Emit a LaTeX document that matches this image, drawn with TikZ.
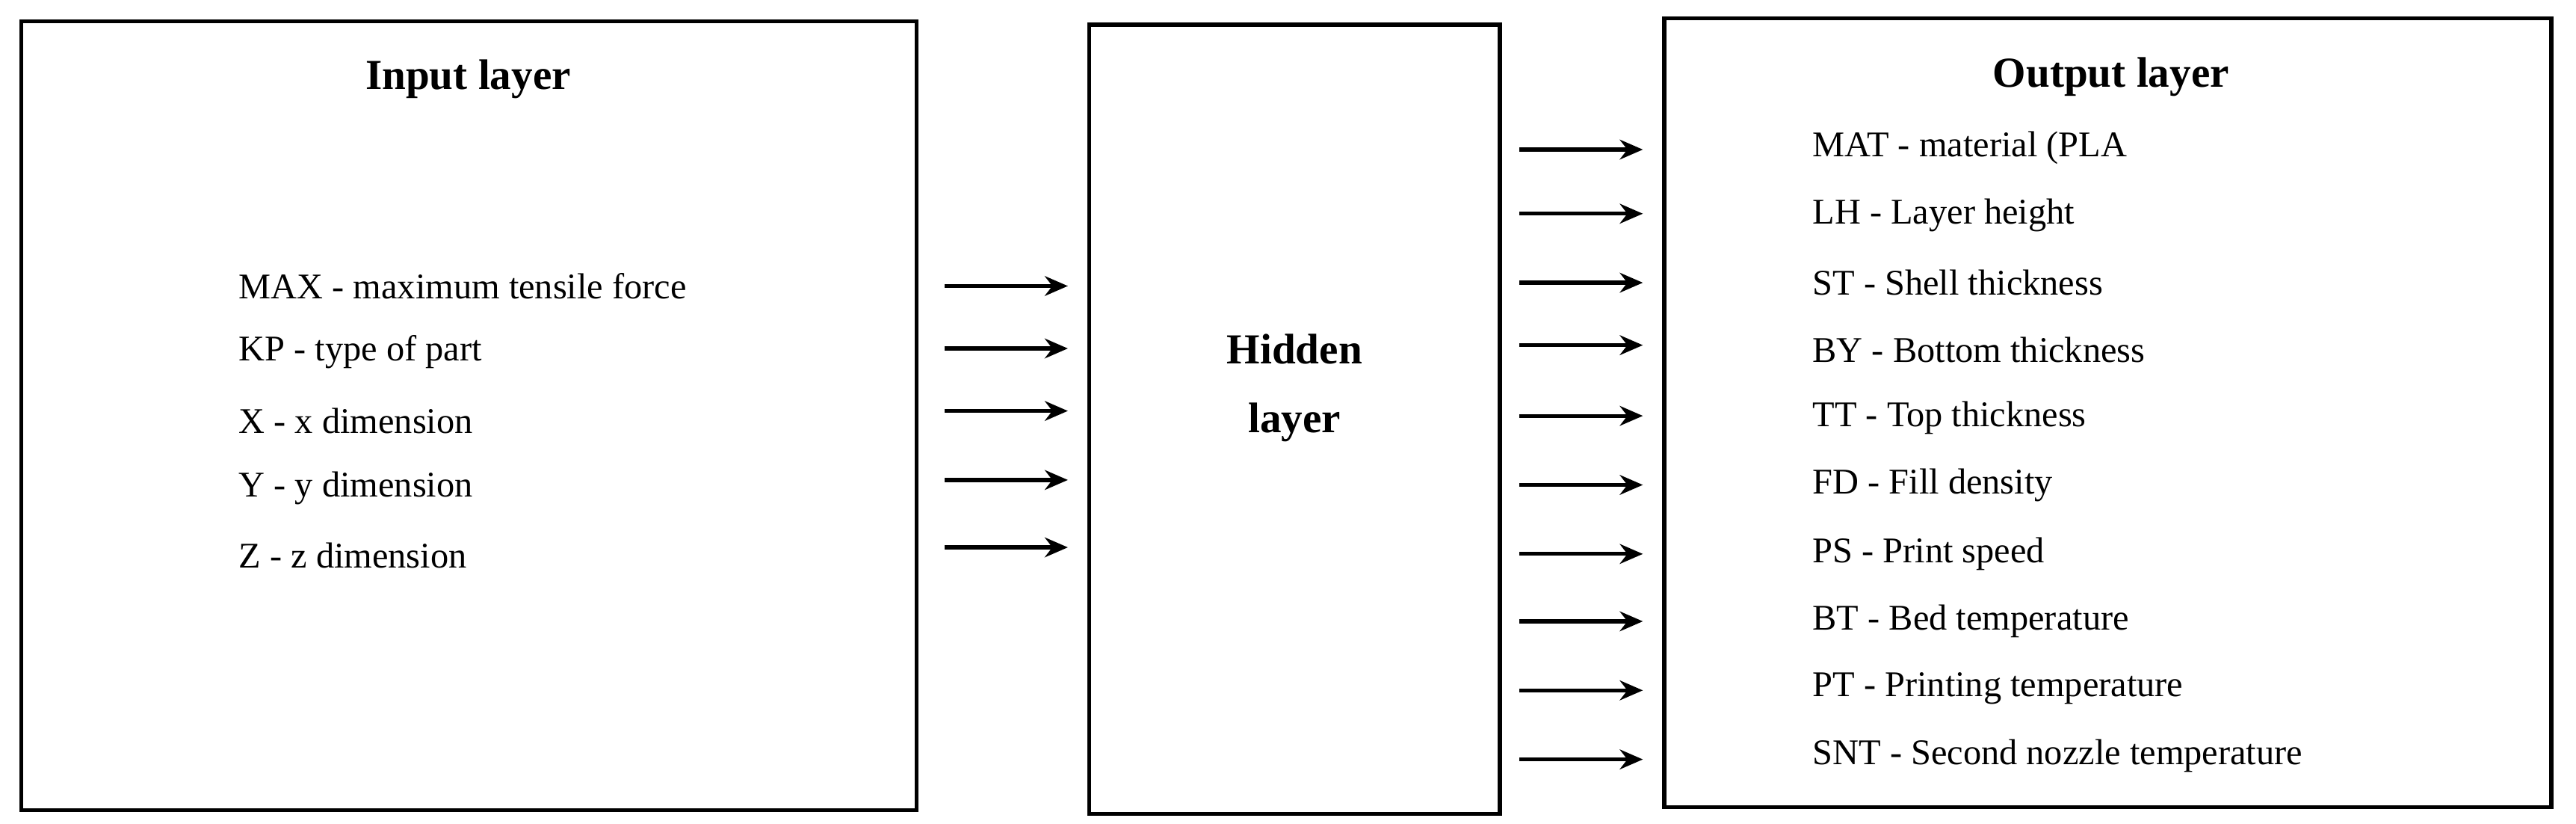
\documentclass[tikz,border=0pt]{standalone}
\usepackage{fontspec}
\setmainfont{Liberation Serif}
\usetikzlibrary{arrows.meta}
\begin{document}
\begin{tikzpicture}[x=0.5pt,y=-0.5pt,
 box/.style={draw,line width=1.2pt},
 it/.style={anchor=west,font=\fontsize{11}{13}\selectfont,inner sep=0pt},
 ttl/.style={font=\fontsize{13}{15}\selectfont\bfseries,align=center},
 ar/.style={-{Stealth[length=7pt,width=6pt]},line width=1.2pt}]
\useasboundingbox (0,0) rectangle (1568,501);
\draw[box] (13,13) rectangle (558,493);
\draw[box] (663,15) rectangle (913,495);
\draw[box] (1013,11) rectangle (1553,491);
\node[ttl] (ti) at (285,48) {Input layer};
\node[ttl] (th) at (788,236) {Hidden\\[6pt]layer};
\node[ttl] (to) at (1285,47) {Output layer};
\foreach \y/\t [count=\i] in {174/MAX - maximum tensile force,214/KP - type of part,256/X - x dimension,297/Y - y dimension,338/Z - z dimension}{
 \node[it] (in\i) at (145,\y) {\t};}
\foreach \y [count=\i] in {174,212,250,292,333}{
 \coordinate (a\i) at (575,\y); \coordinate (b\i) at (650,\y);
 \draw[ar] (a\i) -- (b\i);}
\foreach \y/\t [count=\i] in {90/MAT - material (PLA/PLA+),131/LH - Layer height,172/ST - Shell thickness,213/BY - Bottom thickness,254/TT - Top thickness,295/FD - Fill density,337/PS - Print speed,378/BT - Bed temperature,419/PT - Printing temperature,460/SNT - Second nozzle temperature}{
 \node[it] (out\i) at (1103,\y) {\t};}
\foreach \y [count=\i] in {91,130,172,210,253,295,337,378,420,462}{
 \coordinate (c\i) at (925,\y); \coordinate (d\i) at (1000,\y);
 \draw[ar] (c\i) -- (d\i);}
\end{tikzpicture}
\end{document}
